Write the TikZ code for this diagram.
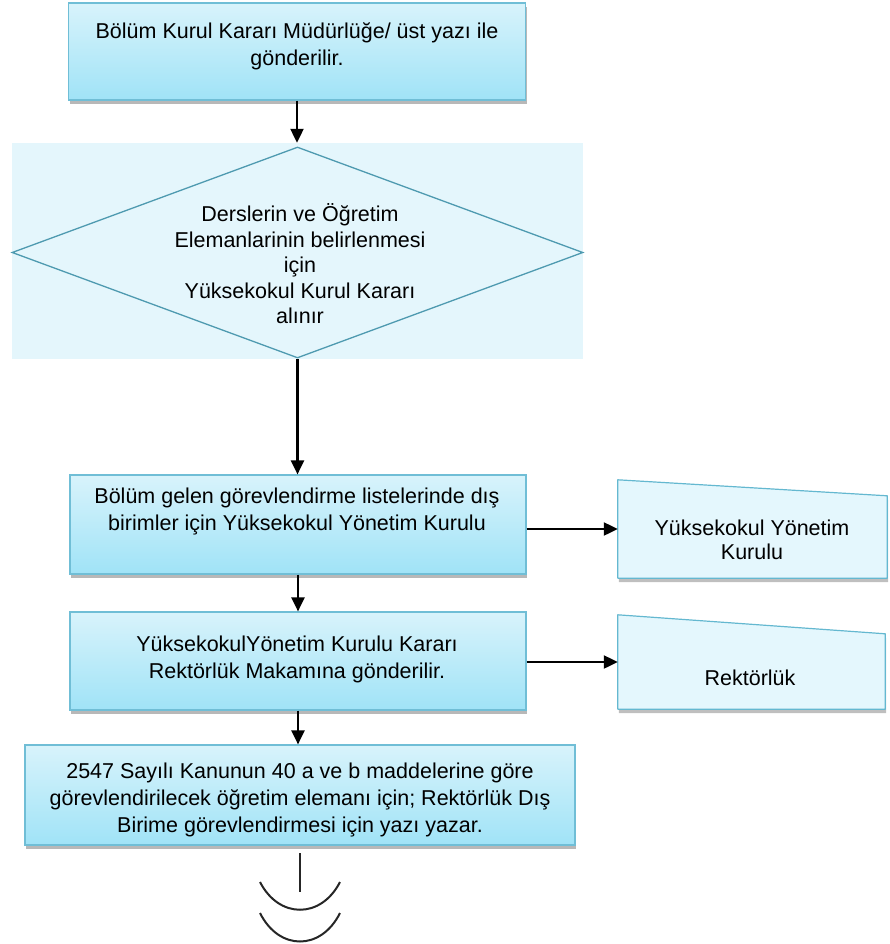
\documentclass[tikz,border=0pt]{standalone}
\usepackage{fontspec}
\setmainfont{Liberation Sans}
\usetikzlibrary{arrows.meta,shadows,calc,shapes.geometric}
\definecolor{boxtop}{RGB}{216,243,251}
\definecolor{boxbot}{RGB}{160,227,247}
\definecolor{boxline}{RGB}{112,190,214}
\definecolor{diabg}{RGB}{228,246,252}
\definecolor{dialine}{RGB}{78,154,176}
\definecolor{rfill}{RGB}{228,247,253}
\definecolor{rline}{RGB}{100,184,208}
\begin{document}
\begin{tikzpicture}[x=1pt,y=-1pt,
  box/.style={draw=boxline, line width=1.2pt, top color=boxtop, bottom color=boxbot,
    drop shadow={shadow xshift=1pt, shadow yshift=-4pt, fill=black, opacity=0.28},
    inner sep=0pt},
  txt/.style={align=center, font=\fontsize{21.5}{27}\selectfont, inner sep=0pt},
  arr/.style={line width=2.2pt, -{Triangle[length=14pt,width=13pt]}},
  slot/.style={inner sep=0pt, draw=none},
  rbox/.style={fill=rfill, draw=rline, line width=1.2pt, line join=round},
  rshadow/.style={fill=black, opacity=0.25},
  curl/.style={line width=2pt, color=black!85}
]
\useasboundingbox (0,0) rectangle (890,944);

% box 1
\node[box, minimum width=457pt, minimum height=97pt] (b1) at (297,51.5) {};
\node[txt] (t1) at (297,46) {Bölüm Kurul Kararı Müdürlüğe/ üst yazı ile\\gönderilir.};

% diamond
\node[fill=diabg, inner sep=0pt, minimum width=571pt, minimum height=216pt] (dbg) at (297.5,251) {};
\node[diamond, draw=dialine, line width=1.3pt, inner sep=0pt, minimum width=571pt, minimum height=211pt] (d) at (297.5,252.5) {};
\node[txt, font=\fontsize{21.5}{25.5}\selectfont] (td) at (300,264) {Derslerin ve Öğretim\\Elemanlarinin belirlenmesi\\için\\Yüksekokul Kurul Kararı\\alınır};

% box 3
\node[box, minimum width=456pt, minimum height=99pt] (b3) at (298,524.5) {};
\node[txt] (t3) at (297,511.5) {Bölüm gelen görevlendirme listelerinde dış\\birimler için Yüksekokul Yönetim Kurulu};

% right box 1
\node[slot, minimum width=269pt, minimum height=98pt] (r1) at (752.5,529) {};
\fill[rshadow] ($(r1.south west)+(1,4)$) -- ($(r1.north west)+(1,4)$) -- ($(r1.north east)+(1,20)$) -- ($(r1.south east)+(1,4)$) -- cycle;
\path[rbox] (r1.south west) -- (r1.north west) -- ($(r1.north east)+(0,16)$) -- (r1.south east) -- cycle;
\node[txt, font=\fontsize{21.5}{24}\selectfont] (tr1) at (752,540) {Yüksekokul Yönetim\\Kurulu};

% box 4
\node[box, minimum width=456pt, minimum height=98pt] (b4) at (298,661) {};
\node[txt] (t4) at (297,659) {YüksekokulYönetim Kurulu Kararı\\Rektörlük Makamına gönderilir.};

% right box 2
\node[slot, minimum width=267pt, minimum height=94pt] (r2) at (751.5,662) {};
\fill[rshadow] ($(r2.south west)+(1,4)$) -- ($(r2.north west)+(1,4)$) -- ($(r2.north east)+(1,23)$) -- ($(r2.south east)+(1,4)$) -- cycle;
\path[rbox] (r2.south west) -- (r2.north west) -- ($(r2.north east)+(0,19)$) -- (r2.south east) -- cycle;
\node[txt] (tr2) at (750,678) {Rektörlük};

% box 5
\node[box, minimum width=550pt, minimum height=100pt] (b5) at (300,795) {};
\node[txt] (t5) at (300,800) {2547 Sayılı Kanunun 40 a ve b maddelerine göre\\görevlendirilecek öğretim elemanı için; Rektörlük Dış\\Birime görevlendirmesi için yazı yazar.};

% connectors
\draw[arr] (b1.south) -- (b1.south |- dbg.north);
\draw[arr] (d.south) -- (d.south |- b3.north);
\draw[arr] (b3.south) -- (b3.south |- b4.north);
\draw[arr] (b4.south) -- (b4.south |- b5.north);
\draw[arr] (b3.east |- r1.west) -- (r1.west);
\draw[arr] (b4.east |- r2.west) -- (r2.west);

% off-page end mark
\coordinate (e1) at (300,853);
\coordinate (e2) at (300,892);
\draw[curl] (e1) -- (e2);
\coordinate (a1) at (260,882);
\coordinate (a2) at (340,882);
\coordinate (a3) at (260,913);
\coordinate (a4) at (340,913);
\draw[curl] (a1) .. controls (279,919) and (321,919) .. (a2);
\draw[curl] (a3) .. controls (279,951) and (321,951) .. (a4);
\end{tikzpicture}
\end{document}
